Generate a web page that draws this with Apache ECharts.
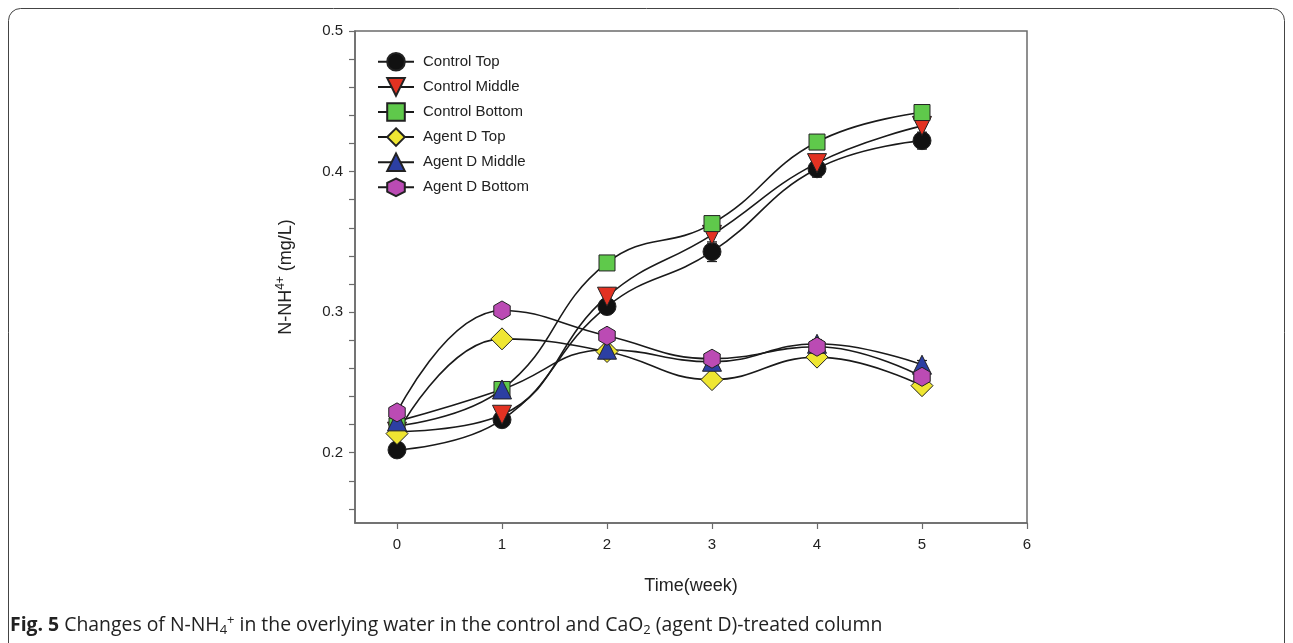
<!DOCTYPE html>
<html><head><meta charset="utf-8">
<script src="https://cdn.jsdelivr.net/npm/echarts@6.0.0/dist/echarts.min.js"></script>
<style>html,body{margin:0;padding:0;background:#fff}#c{width:1293px;height:643px}</style>
</head><body><div id="c"></div>
<script>
const weeks = [0, 1, 2, 3, 4, 5];
const seriesNames = ['Control Top', 'Control Middle', 'Control Bottom', 'Agent D Top', 'Agent D Middle', 'Agent D Bottom'];
const controlTop    = [0.202, 0.2235, 0.304, 0.343, 0.402, 0.422];
const controlMiddle = [0.215, 0.227, 0.311, 0.355, 0.406, 0.4325];
const controlBottom = [0.219, 0.245, 0.335, 0.363, 0.421, 0.442];
const agentTop      = [0.2136, 0.281, 0.272, 0.252, 0.268, 0.2477];
const agentMiddle   = [0.2223, 0.245, 0.2733, 0.2647, 0.2775, 0.2626];
const agentBottom   = [0.2287, 0.3012, 0.2832, 0.2669, 0.2754, 0.254];
const errControlTop    = [0.005, 0.004, 0.005, 0.007, 0.006, 0.006];
const errControlMiddle = [0.003, 0.004, 0.006, 0.006, 0.006, 0.005];
const errControlBottom = [0.003, 0.003, 0.003, 0.004, 0.003, 0.003];
const errAgentTop      = [0.003, 0.004, 0.003, 0.003, 0.004, 0.004];
const errAgentMiddle   = [0.003, 0.003, 0.003, 0.003, 0.003, 0.003];
const errAgentBottom   = [0.003, 0.003, 0.003, 0.003, 0.003, 0.003];
const xTickValues = [0, 1, 2, 3, 4, 5, 6];
const yLabelValues = [0.2, 0.3, 0.4, 0.5];
const yTickValues = [0.16, 0.18, 0.2, 0.22, 0.24, 0.26, 0.28, 0.3, 0.32, 0.34, 0.36, 0.38, 0.4, 0.42, 0.44, 0.46, 0.48, 0.5];

const values = [controlTop, controlMiddle, controlBottom, agentTop, agentMiddle, agentBottom];
const errs = [errControlTop, errControlMiddle, errControlBottom, errAgentTop, errAgentMiddle, errAgentBottom];
const hexPath = 'path://M0,-1 L0.866,-0.5 L0.866,0.5 L0,1 L-0.866,0.5 L-0.866,-0.5 Z';
const styles = [
  {symbol: 'circle', size: 18, color: '#111111', rotate: 0},
  {symbol: 'triangle', size: 19, color: '#e23222', rotate: 180},
  {symbol: 'rect', size: 16, color: '#5fc94b', rotate: 0},
  {symbol: 'diamond', size: 22, color: '#efe632', rotate: 0},
  {symbol: 'triangle', size: 19, color: '#2c3fa3', rotate: 0},
  {symbol: hexPath, size: 19, color: '#bb4bb4', rotate: 0}
];

const series = seriesNames.map((name, k) => ({
  name: name,
  type: 'line',
  smooth: 0.45,
  data: weeks.map((w, i) => [w, values[k][i]]),
  symbol: styles[k].symbol,
  symbolSize: styles[k].size,
  symbolRotate: styles[k].rotate,
  symbolKeepAspect: true,
  showAllSymbol: true,
  lineStyle: {color: '#1a1a1a', width: 1.6},
  itemStyle: {color: styles[k].color, borderColor: '#222', borderWidth: 1, opacity: 1},
  emphasis: {disabled: true},
  z: 3
}));

const errData = [];
values.forEach((arr, k) => arr.forEach((v, i) => errData.push([weeks[i], v, errs[k][i]])));
series.push({
  type: 'custom',
  name: 'err',
  z: 2,
  silent: true,
  data: errData,
  renderItem: function (params, api) {
    const x = api.value(0), y = api.value(1), e = api.value(2);
    const top = api.coord([x, y + e]);
    const bot = api.coord([x, y - e]);
    const hw = 5;
    const st = {stroke: '#222', lineWidth: 1.2};
    return {type: 'group', children: [
      {type: 'line', shape: {x1: top[0], y1: top[1], x2: bot[0], y2: bot[1]}, style: st},
      {type: 'line', shape: {x1: top[0] - hw, y1: top[1], x2: top[0] + hw, y2: top[1]}, style: st},
      {type: 'line', shape: {x1: bot[0] - hw, y1: bot[1], x2: bot[0] + hw, y2: bot[1]}, style: st}
    ]};
  }
});

const axisColor = '#6b6b6b';
const chart = echarts.init(document.getElementById('c'), null, {renderer: 'canvas'});
chart.setOption({
  animation: false,
  backgroundColor: '#ffffff',
  textStyle: {fontFamily: 'Liberation Sans, Arial, sans-serif'},
  grid: {left: 355, top: 31, right: 266, bottom: 120, show: true, borderColor: axisColor, borderWidth: 1.5, backgroundColor: 'transparent'},
  legend: {
    data: seriesNames,
    orient: 'vertical',
    left: 372,
    top: 47,
    itemWidth: 36,
    itemHeight: 22,
    itemGap: 5.5,
    selectedMode: false,
    textStyle: {fontSize: 15, color: '#222', fontFamily: 'Liberation Sans, Arial, sans-serif', padding: [0, 0, 0, 4]}
  },
  xAxis: {
    type: 'value',
    min: -0.4,
    max: 6,
    name: 'Time(week)',
    nameLocation: 'middle',
    nameGap: 54,
    nameTextStyle: {fontSize: 18, color: '#222'},
    splitLine: {show: false},
    axisLine: {show: true, onZero: false, lineStyle: {color: axisColor, width: 1.5}},
    axisTick: {show: true, inside: false, length: 6, customValues: xTickValues, lineStyle: {color: axisColor, width: 1.2}},
    axisLabel: {customValues: xTickValues, margin: 14, fontSize: 15, color: '#222'}
  },
  yAxis: {
    type: 'value',
    min: 0.15,
    max: 0.5,
    name: 'N-NH{sup|4+} (mg/L)',
    nameLocation: 'middle',
    nameRotate: 90,
    nameGap: 58,
    nameTextStyle: {fontSize: 18, color: '#222', rich: {sup: {fontSize: 12, padding: [0, 0, 10, 0], color: '#222'}}},
    splitLine: {show: false},
    axisLine: {show: true, onZero: false, lineStyle: {color: axisColor, width: 1.5}},
    axisTick: {show: true, inside: false, length: 6, customValues: yTickValues, lineStyle: {color: axisColor, width: 1.2}},
    axisLabel: {customValues: yLabelValues, margin: 12, fontSize: 15, color: '#222', formatter: v => v.toFixed(1)}
  },
  graphic: [
    {type: 'rect', shape: {x: 8.5, y: 8.5, width: 1276, height: 650, r: 12}, style: {fill: 'none', stroke: '#444', lineWidth: 1}, silent: true},
    {type: 'text', left: 10, top: 614, style: {
      text: '{b|Fig. 5} Changes of N-NH{sub|4}{sup|+} in the overlying water in the control and CaO{sub|2} (agent D)-treated column',
      font: '19.4px "Open Sans", sans-serif',
      fill: '#222',
      rich: {
        b: {fontSize: 19.4, fontWeight: 'bold', fontFamily: 'Open Sans', color: '#222'},
        sub: {fontSize: 13, fontFamily: 'Open Sans', padding: [10, 0, 0, 0], color: '#222'},
        sup: {fontSize: 13, fontFamily: 'Open Sans', padding: [0, 0, 10, 0], color: '#222'}
      }
    }}
  ],
  series: series
});
</script>
</body></html>
